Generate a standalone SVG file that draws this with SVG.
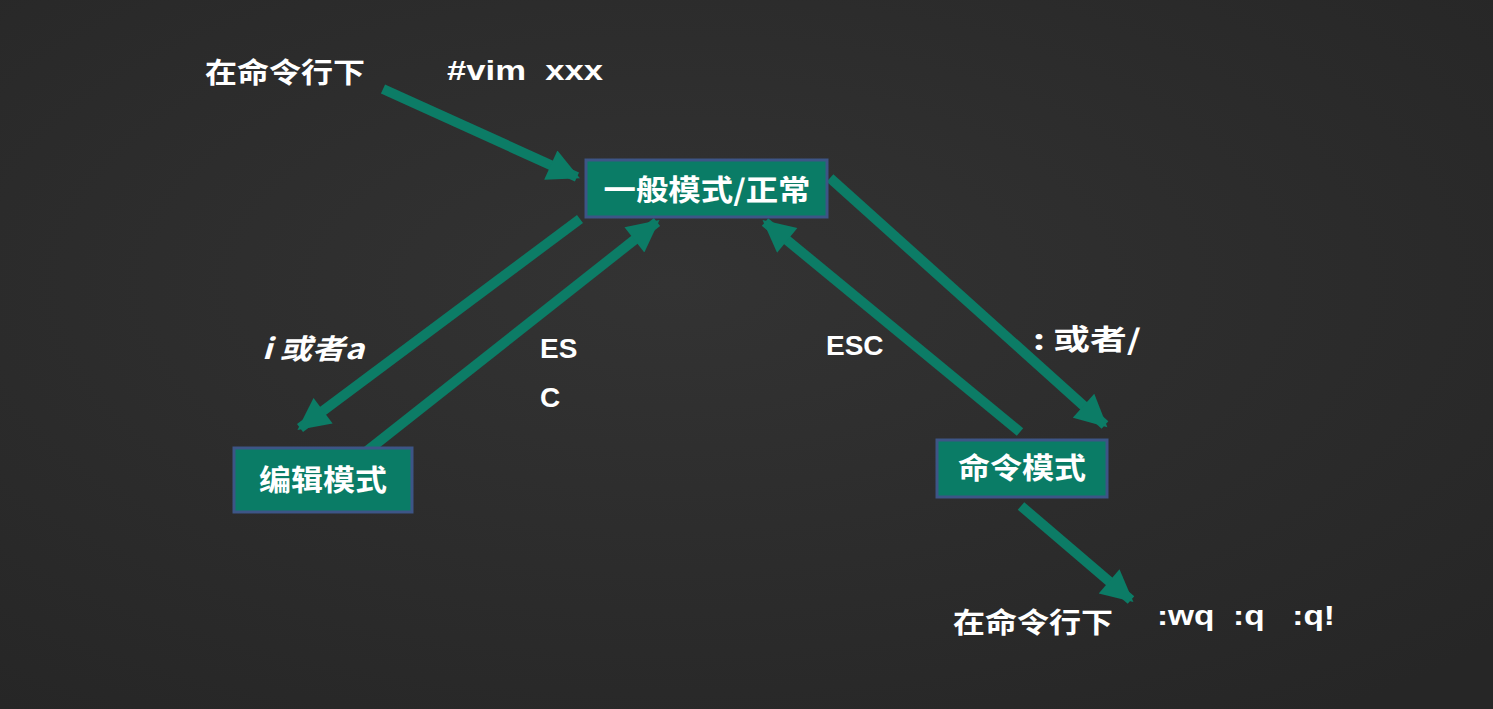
<svg xmlns="http://www.w3.org/2000/svg" width="1493" height="709" viewBox="0 0 1493 709">
<defs>
<radialGradient id="bg" cx="45%" cy="40%" r="75%">
<stop offset="0" stop-color="#333333"/>
<stop offset="1" stop-color="#262626"/>
</radialGradient>
<marker id="ah" viewBox="0 0 10 10" refX="9" refY="5" markerUnits="userSpaceOnUse" markerWidth="34" markerHeight="32" orient="auto">
<path d="M0,0 L10,5 L0,10 Z" fill="#0c7c66"/>
</marker>
<style>
.box{fill:#0a7c66;stroke:#3d5586;stroke-width:3}
.bt{font-family:"Noto Sans CJK SC","Noto Sans",sans-serif;font-weight:bold;font-size:29px;fill:#ffffff;text-anchor:middle}
.t{font-family:"Noto Sans CJK SC","Liberation Sans",sans-serif;font-weight:bold;font-size:28px;fill:#ffffff}
.l{font-family:"Liberation Sans","Noto Sans CJK SC",sans-serif;font-weight:bold;font-size:28px;fill:#ffffff}
.c{stroke:#0c7c66;stroke-width:10;fill:none;marker-end:url(#ah)}
</style>
</defs>
<rect width="1493" height="709" fill="url(#bg)"/>
<g id="connectors">
<line class="c" x1="383" y1="89" x2="577" y2="177"/>
<line class="c" x1="580" y1="219" x2="300" y2="428"/>
<line class="c" x1="367" y1="451" x2="657" y2="222"/>
<line class="c" x1="1020" y1="432" x2="765" y2="222"/>
<line class="c" x1="830" y1="178" x2="1105" y2="425"/>
<line class="c" x1="1021" y1="506" x2="1131" y2="600"/>
</g>
<g id="normal">
<rect class="box" x="586" y="160" width="241" height="57"/>
<text class="bt" x="707" y="201" textLength="207" lengthAdjust="spacingAndGlyphs">一般模式/正常</text>
</g>
<g id="edit">
<rect class="box" x="234" y="448" width="178" height="64"/>
<text class="bt" x="323" y="491" textLength="128" lengthAdjust="spacingAndGlyphs">编辑模式</text>
</g>
<g id="command">
<rect class="box" x="937" y="440" width="170" height="57"/>
<text class="bt" x="1022" y="479" textLength="128" lengthAdjust="spacingAndGlyphs">命令模式</text>
</g>
<g id="labels">
<text class="t" x="205" y="83" textLength="160" lengthAdjust="spacingAndGlyphs">在命令行下</text>
<text class="l" x="447" y="80" textLength="156" lengthAdjust="spacingAndGlyphs" xml:space="preserve">#vim  xxx</text>
<text class="t" x="262" y="359" font-style="italic" textLength="102" lengthAdjust="spacingAndGlyphs">i 或者a</text>
<text class="l" x="540" y="358">ES</text>
<text class="l" x="540" y="407">C</text>
<text class="l" x="826" y="355">ESC</text>
<text class="t" x="1033" y="350" textLength="108" lengthAdjust="spacingAndGlyphs">: 或者/</text>
<text class="t" x="953" y="633" textLength="160" lengthAdjust="spacingAndGlyphs">在命令行下</text>
<text class="l" x="1157" y="625" textLength="178" lengthAdjust="spacingAndGlyphs" xml:space="preserve">:wq  :q   :q!</text>
</g>
</svg>
